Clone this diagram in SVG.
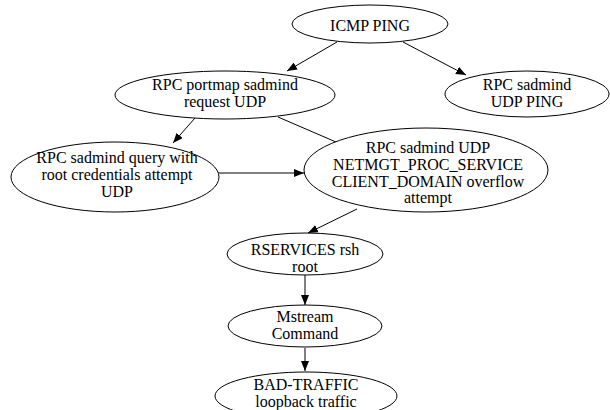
<svg xmlns="http://www.w3.org/2000/svg" width="610" height="410" viewBox="0 0 610 410">
<style>
  .node ellipse { fill: #ffffff; stroke: #000000; stroke-width: 1; }
  .node text { font-family: "Liberation Serif", "Times New Roman", serif; font-size: 16px; fill: #000000; text-anchor: middle; }
  .edges line { stroke: #000000; stroke-width: 1; }
  .arrow { marker-end: url(#ah); }
</style>
<defs>
  <marker id="ah" markerUnits="userSpaceOnUse" markerWidth="10" markerHeight="8" refX="10" refY="4" orient="auto">
    <path d="M0,0 L10,4 L0,8 z" fill="#000000"/>
  </marker>
</defs>
<rect width="610" height="410" fill="#ffffff"/>
<g id="edges" class="edges">
  <line class="arrow" x1="337" y1="42" x2="287" y2="71"/>
  <line class="arrow" x1="403" y1="42" x2="466" y2="75"/>
  <line class="arrow" x1="195" y1="118" x2="173" y2="143"/>
  <line x1="278" y1="117" x2="336" y2="142"/>
  <line class="arrow" x1="218" y1="173" x2="304" y2="173"/>
  <line class="arrow" x1="357" y1="209" x2="308" y2="233"/>
  <line class="arrow" x1="305" y1="275" x2="305" y2="305"/>
  <line class="arrow" x1="305" y1="348" x2="305" y2="371"/>
</g>
<g id="n_icmp" class="node">
  <ellipse cx="370" cy="24" rx="78" ry="19"/>
  <text x="370" y="31">ICMP PING</text>
</g>
<g id="n_udpping" class="node">
  <ellipse cx="527" cy="94" rx="82" ry="23"/>
  <text x="527" y="90">RPC sadmind</text>
  <text x="527" y="107">UDP PING</text>
</g>
<g id="n_portmap" class="node">
  <ellipse cx="225" cy="95" rx="110" ry="24"/>
  <text x="225" y="90">RPC portmap sadmind</text>
  <text x="225" y="107">request UDP</text>
</g>
<g id="n_query" class="node">
  <ellipse cx="115" cy="177" rx="104" ry="35"/>
  <text x="117" y="163">RPC sadmind query with</text>
  <text x="117" y="180">root credentials attempt</text>
  <text x="117" y="197">UDP</text>
</g>
<g id="n_overflow" class="node">
  <ellipse cx="426" cy="170" rx="122" ry="42"/>
  <text x="428" y="153">RPC sadmind UDP</text>
  <text x="428" y="170">NETMGT_PROC_SERVICE</text>
  <text x="428" y="187">CLIENT_DOMAIN overflow</text>
  <text x="428" y="203">attempt</text>
</g>
<g id="n_rsh" class="node">
  <ellipse cx="305" cy="254" rx="78" ry="21"/>
  <text x="305" y="255">RSERVICES rsh</text>
  <text x="305" y="272">root</text>
</g>
<g id="n_mstream" class="node">
  <ellipse cx="305" cy="326" rx="77" ry="21"/>
  <text x="305" y="322">Mstream</text>
  <text x="305" y="339">Command</text>
</g>
<g id="n_bad" class="node">
  <ellipse cx="306" cy="396" rx="91" ry="24"/>
  <text x="306" y="390">BAD-TRAFFIC</text>
  <text x="306" y="407">loopback traffic</text>
</g>
</svg>
